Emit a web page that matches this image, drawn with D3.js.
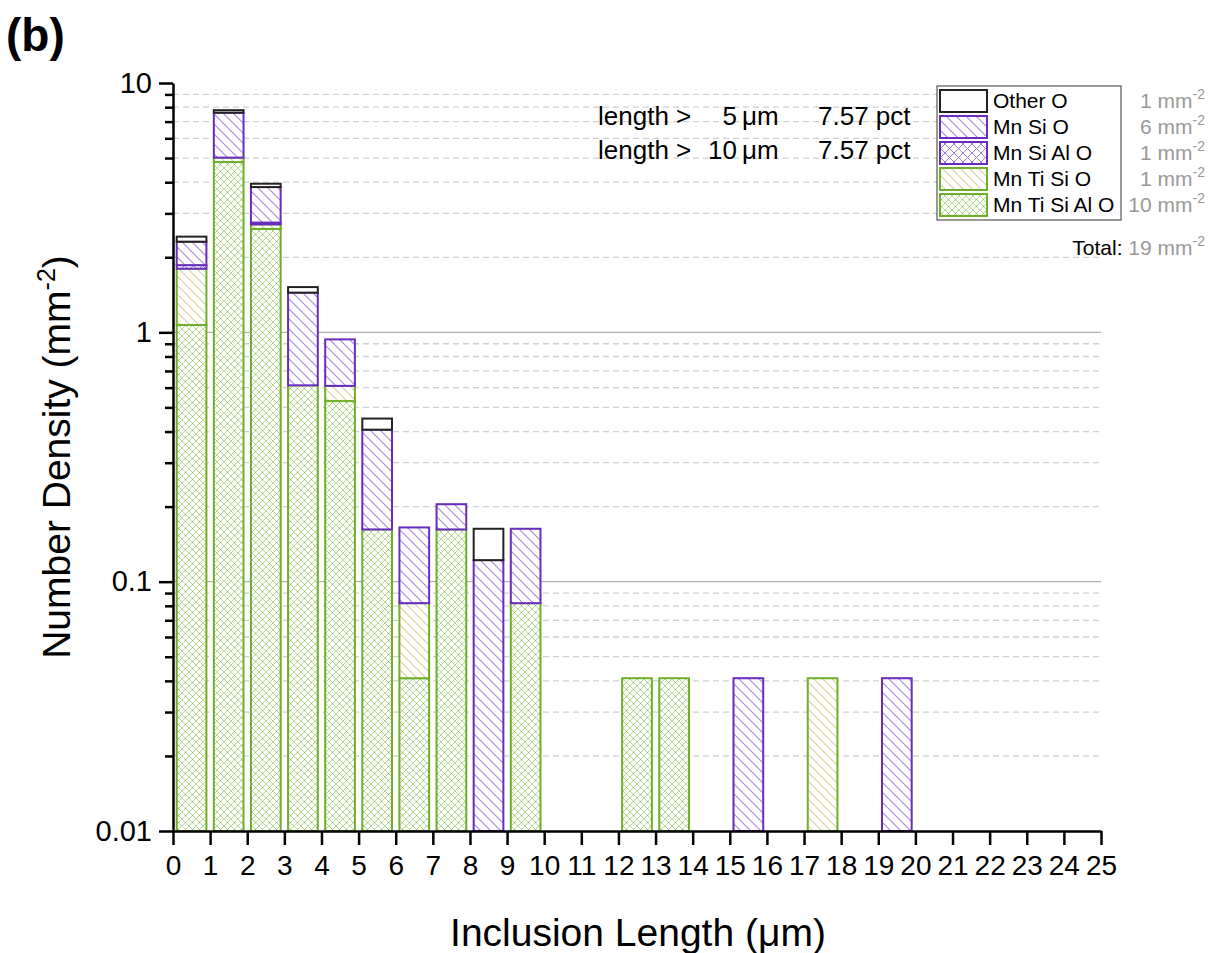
<!DOCTYPE html>
<html>
<head>
<meta charset="utf-8">
<script src="https://cdn.jsdelivr.net/npm/d3@7"></script>
<style>
  body { margin: 0; background: #fff; }
  text { font-family: Arial, "Liberation Sans", sans-serif; }
</style>
</head>
<body>
<div id="chart"></div>
<script>
// bins are 1 um wide, labelled by their left edge
var bins = d3.range(0, 25);

// segment heights (mm^-2) per bin, stacked bottom -> top
var mnTiSiAlO = [1.07, 4.82, 2.60, 0.613, 0.53, 0.162, 0.041, 0.162, 0, 0.082, 0, 0, 0.041, 0.041, 0, 0, 0, 0, 0, 0, 0, 0, 0, 0, 0];
var mnTiSiO   = [0.73, 0.20, 0.11, 0, 0.08, 0, 0.041, 0, 0, 0, 0, 0, 0, 0, 0, 0, 0, 0.041, 0, 0, 0, 0, 0, 0, 0];
var mnSiAlO   = [0.06, 0, 0.045, 0, 0, 0, 0, 0, 0, 0, 0, 0, 0, 0, 0, 0, 0, 0, 0, 0, 0, 0, 0, 0, 0];
var mnSiO     = [0.45, 2.58, 1.07, 0.83, 0.327, 0.245, 0.083, 0.0425, 0.122, 0.081, 0, 0, 0, 0, 0, 0.041, 0, 0, 0, 0.041, 0, 0, 0, 0, 0];
var otherO    = [0.11, 0.18, 0.12, 0.076, 0, 0.044, 0, 0, 0.041, 0, 0, 0, 0, 0, 0, 0, 0, 0, 0, 0, 0, 0, 0, 0, 0];

// legend (top to bottom) and totals
var legendNames  = ["Other O", "Mn Si O", "Mn Si Al O", "Mn Ti Si O", "Mn Ti Si Al O"];
var legendTotals = ["1", "6", "1", "1", "10"];
var totalValue = "19";

var xTicks = d3.range(0, 26);
var yMajor = [0.01, 0.1, 1, 10];
var yMinor = [];
[0.01, 0.1, 1].forEach(function (d) { for (var k = 2; k <= 9; k++) yMinor.push(d * k); });

var annotations = [
    { lim: "5", pct: "7.57 pct" },
    { lim: "10", pct: "7.57 pct" }
];

var series = [
    { key: "Mn Ti Si Al O", values: mnTiSiAlO, fill: "url(#xgreen)", stroke: "#6fae28" },
    { key: "Mn Ti Si O", values: mnTiSiO, fill: "url(#dtan)", stroke: "#6fae28" },
    { key: "Mn Si Al O", values: mnSiAlO, fill: "url(#xpurple)", stroke: "#6a2cbd" },
    { key: "Mn Si O", values: mnSiO, fill: "url(#dpurple)", stroke: "#6a2cbd" },
    { key: "Other O", values: otherO, fill: "#ffffff", stroke: "#222" }
];

var W = 1208, H = 953;
var mLeft = 173, mRight = 1101, mTop = 83, mBottom = 831;

var svg = d3.select("#chart").append("svg")
    .attr("width", W).attr("height", H);

// hatch patterns
var defs = svg.append("defs");
function diag(id, size, color) {
    var p = defs.append("pattern").attr("id", id)
        .attr("patternUnits", "userSpaceOnUse")
        .attr("width", size).attr("height", size);
    p.append("rect").attr("width", size).attr("height", size).attr("fill", "#fff");
    p.append("path")
        .attr("d", "M0,0L" + size + "," + size + "M" + (-size / 2) + "," + (size / 2) + "L" + (size / 2) + "," + (size * 1.5) +
            "M" + (size / 2) + "," + (-size / 2) + "L" + (size * 1.5) + "," + (size / 2))
        .attr("stroke", color).attr("stroke-width", 1.1);
}
function cross(id, size, color, dot) {
    var p = defs.append("pattern").attr("id", id)
        .attr("patternUnits", "userSpaceOnUse")
        .attr("width", size).attr("height", size);
    p.append("rect").attr("width", size).attr("height", size).attr("fill", "#fff");
    p.append("path")
        .attr("d", "M0,0L" + size + "," + size + "M" + size + ",0L0," + size)
        .attr("stroke", color).attr("stroke-width", 1);
    if (dot) {
        p.append("circle").attr("cx", size / 2).attr("cy", size / 2).attr("r", 0.7).attr("fill", dot);
    }
}
diag("dpurple", 10, "#a888de");
diag("dtan", 9, "#dccf98");
cross("xpurple", 9, "#9f7ddb", null);
cross("xgreen", 7, "#b7da92", "#8cbd55");

var x = d3.scaleLinear().domain([0, 25]).range([mLeft, mRight]);
var y = d3.scaleLog().domain([0.01, 10]).range([mBottom, mTop]);

// grid
svg.append("g").selectAll("line").data(yMinor).enter().append("line")
    .attr("x1", mLeft).attr("x2", mRight)
    .attr("y1", function (d) { return y(d); }).attr("y2", function (d) { return y(d); })
    .attr("stroke", "#d0d0d0").attr("stroke-width", 1.3).attr("stroke-dasharray", "6,4");
svg.append("g").selectAll("line").data([0.1, 1]).enter().append("line")
    .attr("x1", mLeft).attr("x2", mRight)
    .attr("y1", function (d) { return y(d); }).attr("y2", function (d) { return y(d); })
    .attr("stroke", "#a0a0a0").attr("stroke-width", 1);

// stacked segments
var segs = [];
bins.forEach(function (b, i) {
    var base = 0;
    series.forEach(function (s) {
        var v = s.values[i];
        if (v > 0) {
            segs.push({ bin: b, lo: base, hi: base + v, s: s });
        }
        base += v;
    });
});

svg.append("g").selectAll("rect").data(segs).enter().append("rect")
    .attr("x", function (d) { return x(d.bin + 0.1); })
    .attr("width", function (d) { return x(d.bin + 0.9) - x(d.bin + 0.1); })
    .attr("y", function (d) { return y(d.hi); })
    .attr("height", function (d) { return y(Math.max(d.lo, 0.01)) - y(d.hi); })
    .attr("fill", function (d) { return d.s.fill; })
    .attr("stroke", function (d) { return d.s.stroke; })
    .attr("stroke-width", 2);

// axes
var xAxis = svg.append("g").attr("transform", "translate(0," + mBottom + ")")
    .call(d3.axisBottom(x).tickValues(xTicks).tickSize(14).tickSizeOuter(0).tickPadding(10));
xAxis.selectAll("text").attr("font-size", 28).attr("fill", "#000")
    .style("font-family", "Arial, 'Liberation Sans', sans-serif");

var yAxis = svg.append("g").attr("transform", "translate(" + mLeft + ",0)")
    .call(d3.axisLeft(y).tickValues(yMajor).tickFormat(function (d) { return String(d); })
        .tickSize(14).tickSizeOuter(0).tickPadding(7));
yAxis.selectAll("text").attr("font-size", 29).attr("fill", "#000")
    .style("font-family", "Arial, 'Liberation Sans', sans-serif");

var yMin = svg.append("g").attr("transform", "translate(" + mLeft + ",0)")
    .call(d3.axisLeft(y).tickValues(yMinor).tickFormat("").tickSize(8).tickSizeOuter(0));
yMin.select(".domain").remove();

svg.selectAll(".domain").attr("stroke", "#000").attr("stroke-width", 2.5);
svg.selectAll(".tick line").attr("stroke", "#000").attr("stroke-width", 2.5);

// axis titles
var yt = svg.append("text")
    .attr("transform", "translate(70,457) rotate(-90)")
    .attr("text-anchor", "middle").attr("font-size", 39).attr("fill", "#000");
yt.append("tspan").text("Number Density (mm");
yt.append("tspan").attr("font-size", 25).attr("dy", -15).text("-2");
yt.append("tspan").attr("dy", 15).text(")");

svg.append("text").attr("x", 638).attr("y", 946)
    .attr("text-anchor", "middle").attr("font-size", 39).attr("fill", "#000")
    .text("Inclusion Length (\u03bcm)");

// panel label
svg.append("text").attr("x", 6).attr("y", 51)
    .attr("font-size", 46).attr("font-weight", "bold").attr("fill", "#000")
    .text("(b)");

// annotations
annotations.forEach(function (a, i) {
    var by = 125 + i * 34;
    svg.append("text").attr("x", 598).attr("y", by).attr("font-size", 26).text("length >");
    svg.append("text").attr("x", 737).attr("y", by).attr("font-size", 26)
        .attr("text-anchor", "end").text(a.lim);
    svg.append("text").attr("x", 742).attr("y", by).attr("font-size", 26).text("\u03bcm");
    svg.append("text").attr("x", 818).attr("y", by).attr("font-size", 26).text(a.pct);
});

// legend
var lg = svg.append("g");
lg.append("rect").attr("x", 937).attr("y", 86).attr("width", 184).attr("height", 134)
    .attr("fill", "#fff").attr("stroke", "#555").attr("stroke-width", 1.2);
var legendSeries = series.slice().reverse();
legendNames.forEach(function (name, i) {
    var ry = 90 + i * 26;
    var s = legendSeries[i];
    lg.append("rect").attr("x", 940).attr("y", ry).attr("width", 47).attr("height", 22)
        .attr("fill", s.fill).attr("stroke", s.stroke).attr("stroke-width", 2);
    lg.append("text").attr("x", 993).attr("y", ry + 18).attr("font-size", 21).attr("fill", "#000")
        .text(name);
    var t = lg.append("text").attr("x", 1205).attr("y", ry + 18).attr("font-size", 21)
        .attr("text-anchor", "end").attr("fill", "#999");
    t.append("tspan").text(legendTotals[i] + " mm");
    t.append("tspan").attr("font-size", 14).attr("dy", -9).text("-2");
});
var tt = svg.append("text").attr("x", 1205).attr("y", 255).attr("font-size", 21)
    .attr("text-anchor", "end");
tt.append("tspan").attr("fill", "#000").text("Total: ");
tt.append("tspan").attr("fill", "#999").text(totalValue + " mm");
tt.append("tspan").attr("fill", "#999").attr("font-size", 14).attr("dy", -9).text("-2");
</script>
</body>
</html>
